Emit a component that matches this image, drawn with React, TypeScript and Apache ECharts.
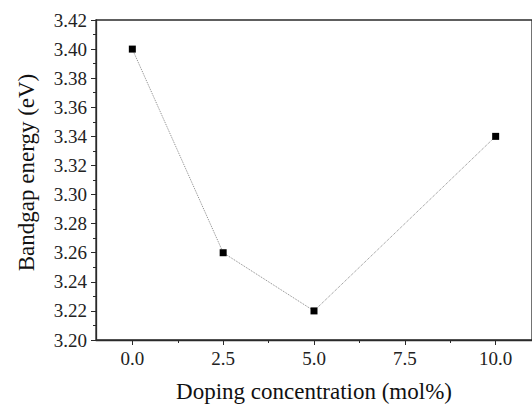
import React, { useEffect, useRef } from "react";
import * as echarts from "echarts";

const dopingConc = [0, 2.5, 5, 10];
const bandgapEV = [3.40, 3.26, 3.22, 3.34];
const xMajorTicks = [0, 2.5, 5, 7.5, 10];
const xMinorTicks = [1.25, 3.75, 6.25, 8.75];
const xTitle = "Doping concentration (mol%)";
const yTitle = "Bandgap energy (eV)";

export default function App() {
  const ref = useRef<HTMLDivElement>(null);
  useEffect(() => {
    if (!ref.current) return;
    const chart = echarts.init(ref.current, null, { renderer: "svg" });
    const font = "Liberation Serif";
    const axisCol = "#2a2a2a";
    chart.setOption({
      animation: false,
      backgroundColor: "#ffffff",
      textStyle: { fontFamily: font },
      grid: {
        left: 96,
        top: 20,
        width: 438,
        height: 325,
        show: true,
        borderColor: axisCol,
        borderWidth: 1.3,
        backgroundColor: "transparent",
      },
      xAxis: [
        {
          type: "value",
          min: -1,
          max: 11,
          position: "bottom",
          axisLine: { show: true, onZero: false, lineStyle: { color: axisCol, width: 1.3 } },
          axisTick: { show: true, length: 5, customValues: xMajorTicks, lineStyle: { color: axisCol, width: 1 } },
          axisLabel: {
            customValues: xMajorTicks,
            formatter: (v: number) => v.toFixed(1),
            fontFamily: font,
            fontSize: 19,
            color: "#222",
            margin: 9,
          },
          splitLine: { show: false },
          name: xTitle,
          nameLocation: "middle",
          nameGap: 40,
          nameTextStyle: { fontFamily: font, fontSize: 23, color: "#111" },
        },
        {
          type: "value",
          min: -1,
          max: 11,
          position: "bottom",
          axisLine: { show: false, onZero: false },
          axisTick: { show: true, length: 3, customValues: xMinorTicks, lineStyle: { color: axisCol, width: 1 } },
          axisLabel: { show: false },
          splitLine: { show: false },
        },
      ],
      yAxis: {
        type: "value",
        min: 3.2,
        max: 3.42,
        interval: 0.02,
        axisLine: { show: true, onZero: false, lineStyle: { color: axisCol, width: 1.3 } },
        axisTick: { show: true, length: 5, lineStyle: { color: axisCol, width: 1 } },
        minorTick: { show: true, splitNumber: 2, length: 3, lineStyle: { color: axisCol, width: 1 } },
        axisLabel: {
          formatter: (v: number) => v.toFixed(2),
          fontFamily: font,
          fontSize: 19,
          color: "#222",
          margin: 9,
        },
        splitLine: { show: false },
        minorSplitLine: { show: false },
        name: yTitle,
        nameLocation: "middle",
        nameGap: 58,
        nameTextStyle: { fontFamily: font, fontSize: 23, color: "#111", padding: [0, 0, 0, 15] },
      },
      series: [
        {
          type: "line",
          xAxisIndex: 0,
          data: dopingConc.map((x, i) => [x, bandgapEV[i]]),
          symbol: "rect",
          symbolSize: 7,
          itemStyle: { color: "#000" },
          lineStyle: { color: "#888", width: 1, type: "dotted" },
        },
      ],
    });
    return () => chart.dispose();
  }, []);
  return (
    <div
      ref={ref}
      style={{ position: "absolute", left: 0, top: 0, width: 532, height: 408 }}
    />
  );
}
